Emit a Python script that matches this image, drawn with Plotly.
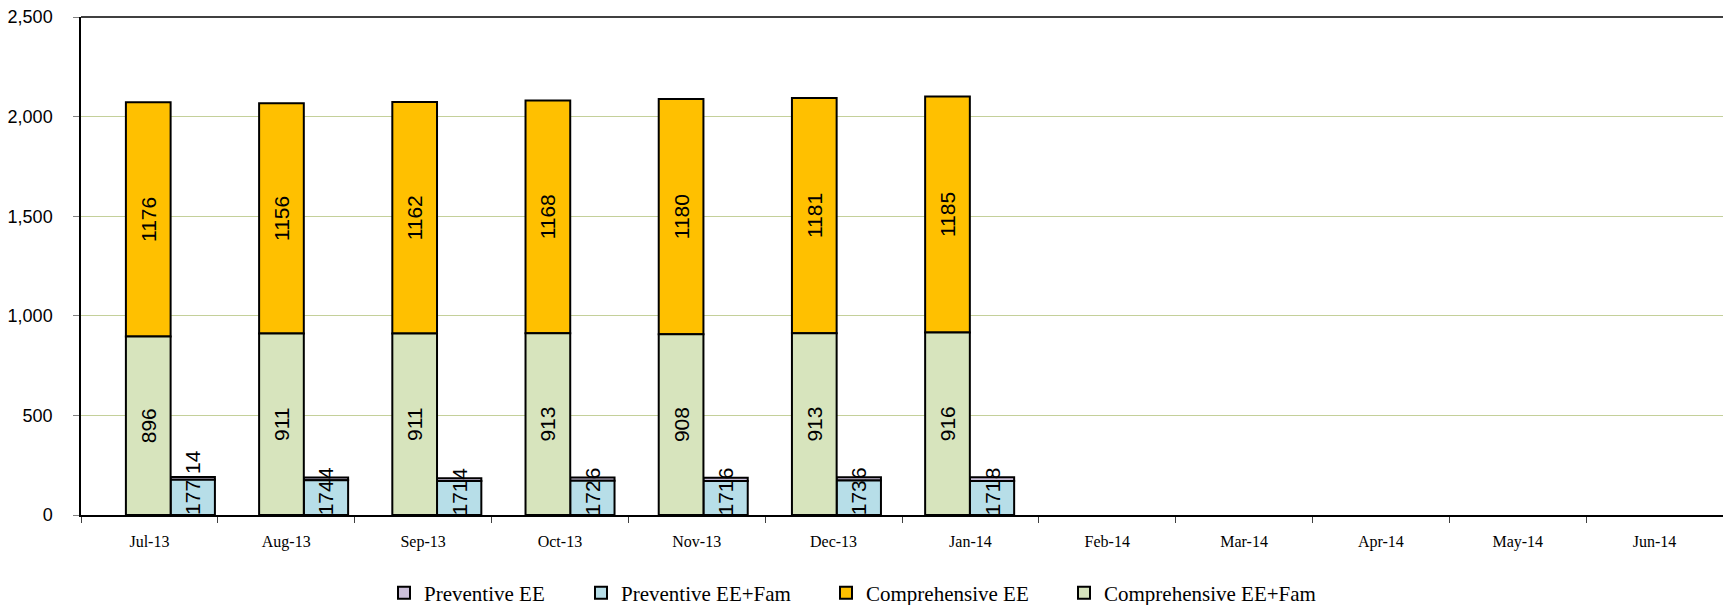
import plotly.graph_objects as go

# Monthly enrollment by plan and coverage tier
months = ["Jul-13", "Aug-13", "Sep-13", "Oct-13", "Nov-13", "Dec-13",
          "Jan-14", "Feb-14", "Mar-14", "Apr-14", "May-14", "Jun-14"]
reported = months[:7]

comp_ee_fam = [896, 911, 911, 913, 908, 913, 916]
comp_ee = [1176, 1156, 1162, 1168, 1180, 1181, 1185]
prev_ee_fam = [177, 174, 171, 172, 171, 173, 171]
prev_ee = [14, 14, 14, 16, 16, 16, 18]

y_ticks = [0, 500, 1000, 1500, 2000, 2500]

SANS = "Liberation Sans, Arial, sans-serif"
SERIF = "Liberation Serif, Times New Roman, serif"
OUTLINE = dict(color="black", width=2)
LABEL_FONT = dict(family=SANS, size=21, color="black")
BAR_W = 0.3356

fig = go.Figure()

fig.add_trace(go.Bar(
    name="Preventive EE", x=reported, y=prev_ee, base=prev_ee_fam,
    offset=0, width=0.3326, xaxis="x2", legend="legend",
    marker=dict(color="#CCC0DA", line=OUTLINE),
    text=[str(v) for v in prev_ee], textangle=-90,
    textposition=["outside"] + ["inside"] * (len(prev_ee) - 1),
    insidetextanchor="middle", constraintext="none",
    textfont=LABEL_FONT, cliponaxis=False,
))
fig.add_trace(go.Bar(
    name="Preventive EE+Fam", x=reported, y=prev_ee_fam,
    offset=0, width=0.3326, xaxis="x2", legend="legend2",
    marker=dict(color="#B7DEE8", line=OUTLINE),
    text=[str(v) for v in prev_ee_fam], textangle=-90,
    textposition="inside", insidetextanchor="middle", constraintext="none",
    textfont=LABEL_FONT,
))
fig.add_trace(go.Bar(
    name="Comprehensive EE", x=reported, y=comp_ee, base=comp_ee_fam,
    offset=-BAR_W, width=BAR_W, xaxis="x2", legend="legend3",
    marker=dict(color="#FFC000", line=OUTLINE),
    text=[str(v) for v in comp_ee], textangle=-90,
    textposition="inside", insidetextanchor="middle", constraintext="none",
    textfont=LABEL_FONT,
))
fig.add_trace(go.Bar(
    name="Comprehensive EE+Fam", x=reported, y=comp_ee_fam,
    offset=-BAR_W, width=BAR_W, xaxis="x2", legend="legend4",
    marker=dict(color="#D7E4BD", line=OUTLINE),
    text=[str(v) for v in comp_ee_fam], textangle=-90,
    textposition="inside", insidetextanchor="middle", constraintext="none",
    textfont=LABEL_FONT,
))

# invisible trace that carries the month categories on the main axis
fig.add_trace(go.Scatter(x=months, y=[None] * len(months), mode="markers",
                         showlegend=False, hoverinfo="skip"))


def legend_box(x_px):
    return dict(orientation="h", xref="container", yref="container",
                x=x_px / 1723, xanchor="left", y=1 - 593 / 605, yanchor="middle",
                font=dict(family=SERIF, size=21, color="black"),
                itemwidth=30, bgcolor="rgba(0,0,0,0)")


fig.update_layout(
    width=1723, height=605,
    margin=dict(l=81, r=0, t=17, b=90),
    paper_bgcolor="white", plot_bgcolor="white",
    barmode="overlay",
    uniformtext=dict(minsize=21, mode="show"),
    showlegend=True,
    legend=legend_box(384),
    legend2=legend_box(581),
    legend3=legend_box(826),
    legend4=legend_box(1064),
    xaxis=dict(
        type="category", categoryorder="array", categoryarray=months,
        range=[-0.5, 11.5], tickson="boundaries", ticks="outside", ticklen=6,
        tickcolor="#404040", showline=True, linecolor="black", linewidth=1.5,
        showgrid=False, zeroline=False,
        tickfont=dict(family=SERIF, size=16, color="black"),
        ticklabelstandoff=11,
    ),
    xaxis2=dict(
        type="category", categoryorder="array", categoryarray=months,
        overlaying="x", range=[-0.6727, 11.654], visible=False,
    ),
    yaxis=dict(
        range=[0, 2500], tickvals=y_ticks, tickformat=",",
        ticks="outside", ticklen=6, tickcolor="#808080",
        showline=True, linecolor="black", linewidth=1.5,
        showgrid=True, gridcolor="#C4D09A", gridwidth=1.2,
        zeroline=False,
        tickfont=dict(family=SANS, size=18, color="black"),
        ticklabelstandoff=17,
    ),
    shapes=[dict(type="line", xref="paper", yref="paper", x0=0, x1=1, y0=1, y1=1,
                 line=dict(color="black", width=1.5))],
)

fig.write_html("out.html")
